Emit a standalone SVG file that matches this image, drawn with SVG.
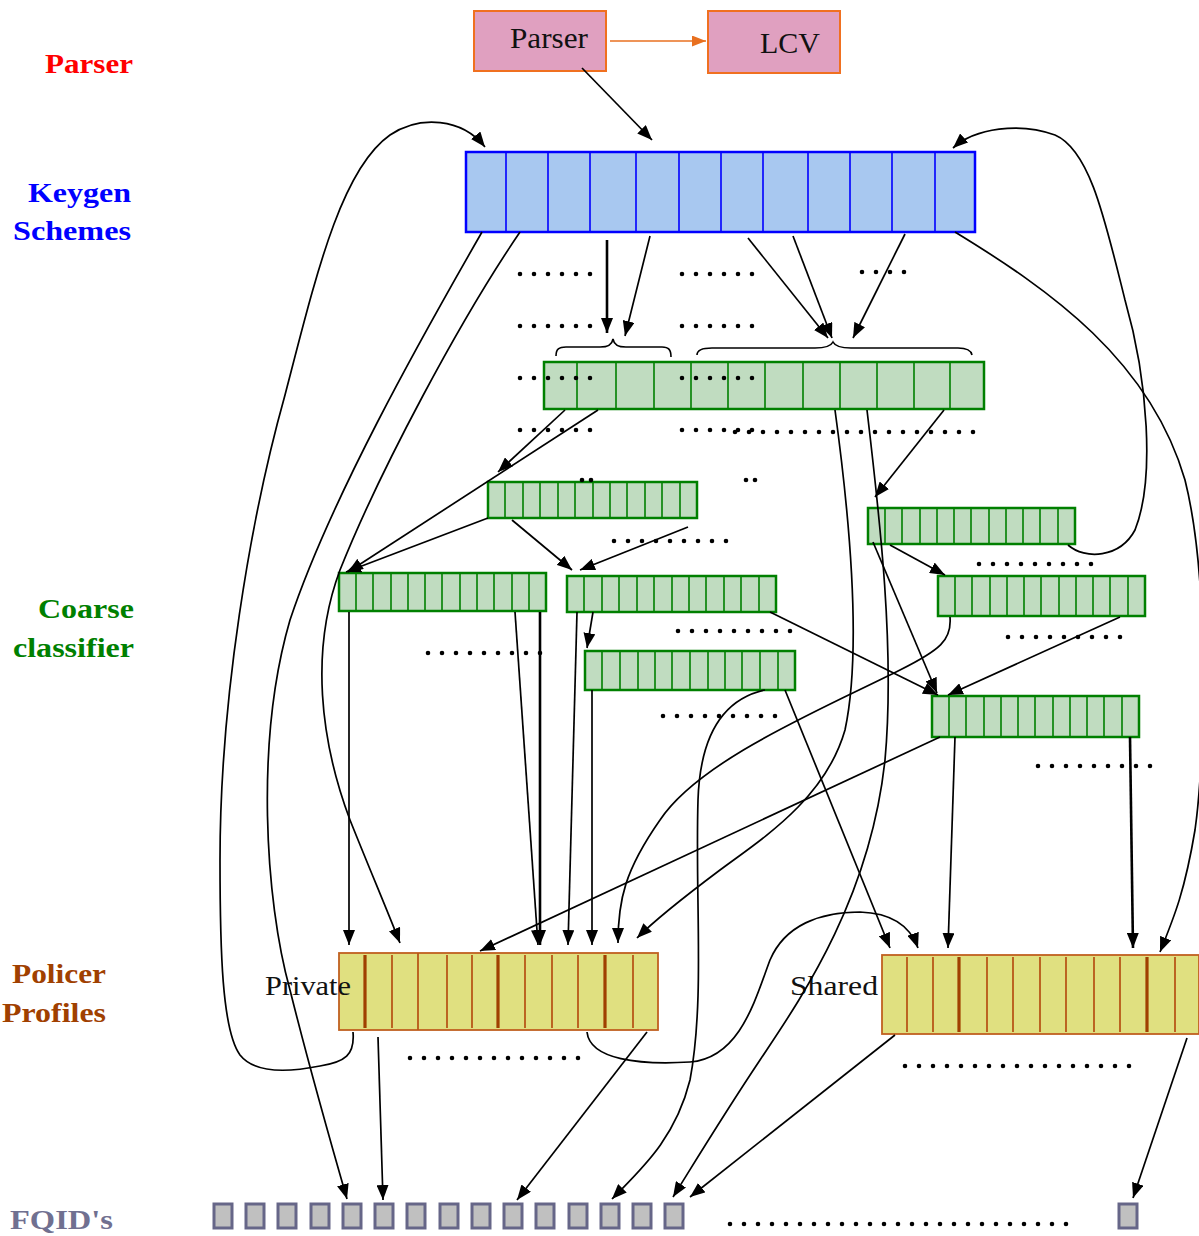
<svg xmlns="http://www.w3.org/2000/svg" width="1199" height="1236" viewBox="0 0 1199 1236">
<style>
.lbl{font-family:"Liberation Serif",serif;font-weight:bold;font-size:28px}
.ntx{font-family:"Liberation Serif",serif;font-size:30px;fill:#111}
.ptx{font-family:"Liberation Serif",serif;font-size:28px;fill:#111}
.kg{fill:#a8c8f0;stroke:#0000ff;stroke-width:2.5}
.kgd{stroke:#0000ff;stroke-width:1.6}
.cc{fill:#c0dcc0;stroke:#008000;stroke-width:2.5}
.ccd{stroke:#008000;stroke-width:1.6}
.pp{fill:#e0e080;stroke:#c06020;stroke-width:1.8}
.ppd{stroke:#b85818;stroke-width:1.8}
.ppt{stroke:#a04000;stroke-width:3.2}
.fq{fill:#c0c0c0;stroke:#666688;stroke-width:3}
.c{fill:none;stroke:#000;stroke-width:1.7;marker-end:url(#ah)}
.t{stroke-width:2.6}
.dots{fill:none;stroke:#000;stroke-width:4.6;stroke-linecap:round;stroke-dasharray:0 14}
.br{fill:none;stroke:#000;stroke-width:1.6}
</style>
<defs>
<marker id="ah" markerWidth="15" markerHeight="12" refX="15" refY="6" orient="auto" markerUnits="userSpaceOnUse"><path d="M0,0 L15,6 L0,12 z" fill="#000"/></marker>
<marker id="aho" markerWidth="14" markerHeight="11" refX="14" refY="5.5" orient="auto" markerUnits="userSpaceOnUse"><path d="M0,0 L14,5.5 L0,11 z" fill="#e87020"/></marker>
</defs>
<rect width="1199" height="1236" fill="#fff"/>

<g id="labels">
<text class="lbl" x="45" y="73" fill="#ff0000" textLength="88" lengthAdjust="spacingAndGlyphs">Parser</text>
<text class="lbl" x="28" y="202" fill="#0000ff" textLength="103" lengthAdjust="spacingAndGlyphs">Keygen</text>
<text class="lbl" x="13" y="240" fill="#0000ff" textLength="118" lengthAdjust="spacingAndGlyphs">Schemes</text>
<text class="lbl" x="38" y="618" fill="#008000" textLength="96" lengthAdjust="spacingAndGlyphs">Coarse</text>
<text class="lbl" x="13" y="657" fill="#008000" textLength="121" lengthAdjust="spacingAndGlyphs">classifier</text>
<text class="lbl" x="12" y="983" fill="#a04000" textLength="94" lengthAdjust="spacingAndGlyphs">Policer</text>
<text class="lbl" x="2" y="1022" fill="#a04000" textLength="104" lengthAdjust="spacingAndGlyphs">Profiles</text>
<text class="lbl" x="10" y="1229" fill="#707090" textLength="103" lengthAdjust="spacingAndGlyphs">FQID's</text>
</g>

<g id="parser">
<rect x="474" y="11" width="132" height="60" fill="#e0a0c0" stroke="#f07020" stroke-width="2"/>
<text class="ntx" x="510" y="48" textLength="78" lengthAdjust="spacingAndGlyphs">Parser</text>
</g>
<g id="lcv">
<rect x="708" y="11" width="132" height="62" fill="#e0a0c0" stroke="#f07020" stroke-width="2"/>
<text class="ntx" x="760" y="53" textLength="60" lengthAdjust="spacingAndGlyphs">LCV</text>
</g>

<g id="keygen">
<rect class="kg" x="466" y="152" width="509" height="80"/>
<path class="kgd" d="M506,152V232M548,152V232M590,152V232M636,152V232M679,152V232M721,152V232M763,152V232M808,152V232M850,152V232M892,152V232M935,152V232"/>
</g>

<g id="cc1">
<rect class="cc" x="544" y="362" width="440" height="47"/>
<path class="ccd" d="M577,362V409M616,362V409M654,362V409M691,362V409M728,362V409M765,362V409M803,362V409M840,362V409M877,362V409M914,362V409M950,362V409"/>
</g>
<g id="cc2">
<rect class="cc" x="488" y="482" width="209" height="36"/>
<path class="ccd" d="M505,482V518M523,482V518M540,482V518M558,482V518M575,482V518M593,482V518M610,482V518M627,482V518M645,482V518M662,482V518M680,482V518"/>
</g>
<g id="cc3">
<rect class="cc" x="339" y="573" width="207" height="38"/>
<path class="ccd" d="M356,573V611M373,573V611M391,573V611M408,573V611M425,573V611M442,573V611M460,573V611M477,573V611M494,573V611M512,573V611M529,573V611"/>
</g>
<g id="cc4">
<rect class="cc" x="567" y="576" width="209" height="36"/>
<path class="ccd" d="M584,576V612M602,576V612M619,576V612M637,576V612M654,576V612M672,576V612M689,576V612M706,576V612M724,576V612M741,576V612M759,576V612"/>
</g>
<g id="cc5">
<rect class="cc" x="585" y="651" width="210" height="39"/>
<path class="ccd" d="M602,651V690M620,651V690M638,651V690M655,651V690M672,651V690M690,651V690M708,651V690M725,651V690M742,651V690M760,651V690M778,651V690"/>
</g>
<g id="cc6">
<rect class="cc" x="868" y="508" width="207" height="36"/>
<path class="ccd" d="M885,508V544M902,508V544M920,508V544M937,508V544M954,508V544M971,508V544M989,508V544M1006,508V544M1023,508V544M1040,508V544M1058,508V544"/>
</g>
<g id="cc7">
<rect class="cc" x="938" y="576" width="207" height="40"/>
<path class="ccd" d="M955,576V616M972,576V616M990,576V616M1007,576V616M1024,576V616M1041,576V616M1059,576V616M1076,576V616M1093,576V616M1110,576V616M1128,576V616"/>
</g>
<g id="cc8">
<rect class="cc" x="932" y="696" width="207" height="41"/>
<path class="ccd" d="M949,696V737M966,696V737M984,696V737M1001,696V737M1018,696V737M1035,696V737M1053,696V737M1070,696V737M1087,696V737M1104,696V737M1122,696V737"/>
</g>

<g id="policer-private">
<rect class="pp" x="339" y="953" width="319" height="77"/>
<path class="ppt" d="M365,955V1028M498,955V1028M605,955V1028"/>
<path class="ppd" d="M392,955V1028M418,953V1030M447,955V1028M472,955V1028M525,955V1028M552,955V1028M578,955V1028M633,955V1028"/>
<text class="ptx" x="265" y="995" textLength="86" lengthAdjust="spacingAndGlyphs">Private</text>
</g>
<g id="policer-shared">
<rect class="pp" x="882" y="955" width="317" height="79"/>
<path class="ppt" d="M959,957V1032M1147,957V1032"/>
<path class="ppd" d="M907,957V1032M933,957V1032M987,957V1032M1013,957V1032M1040,957V1032M1066,957V1032M1094,957V1032M1120,957V1032M1175,957V1032"/>
<text class="ptx" x="790" y="995" textLength="88" lengthAdjust="spacingAndGlyphs">Shared</text>
</g>

<g id="fqids">
<rect class="fq" x="214" y="1204" width="18" height="24"/>
<rect class="fq" x="246" y="1204" width="18" height="24"/>
<rect class="fq" x="278" y="1204" width="18" height="24"/>
<rect class="fq" x="311" y="1204" width="18" height="24"/>
<rect class="fq" x="343" y="1204" width="18" height="24"/>
<rect class="fq" x="375" y="1204" width="18" height="24"/>
<rect class="fq" x="407" y="1204" width="18" height="24"/>
<rect class="fq" x="440" y="1204" width="18" height="24"/>
<rect class="fq" x="472" y="1204" width="18" height="24"/>
<rect class="fq" x="504" y="1204" width="18" height="24"/>
<rect class="fq" x="536" y="1204" width="18" height="24"/>
<rect class="fq" x="569" y="1204" width="18" height="24"/>
<rect class="fq" x="601" y="1204" width="18" height="24"/>
<rect class="fq" x="633" y="1204" width="18" height="24"/>
<rect class="fq" x="665" y="1204" width="18" height="24"/>
<rect class="fq" x="1119" y="1204" width="18" height="24"/>
</g>

<g id="ellipses">
<path class="dots" d="M520,274H592M682,274H754M862,272H918M520,326H592M682,326H754M520,378H592M682,378H754M520,430H592M682,430H754M735,432H987M614,541H730M979,564H1095M678,631H794M1008,637H1124M428,653H544M663,716H779M1038,766H1154M410,1058H580M905,1066H1140M730,1224H1078"/>
<g fill="#000"><circle cx="582" cy="480" r="2.3"/><circle cx="591" cy="480" r="2.3"/><circle cx="746" cy="480" r="2.3"/><circle cx="755" cy="480" r="2.3"/></g>
</g>

<g id="braces">
<path class="br" d="M556,356C556,349 559,347 566,347L600,347C608,347 612,345 613,339C614,345 618,347 626,347L662,347C669,347 671,350 671,357"/>
<path class="br" d="M697,355C697,350 702,348 712,348L815,348C826,348 831,346 833,342C835,346 840,348 851,348L958,348C967,348 971,350 972,355"/>
</g>

<g id="connectors">
<path d="M610,41H706" fill="none" stroke="#e87020" stroke-width="1.6" marker-end="url(#aho)"/>
<path class="c" d="M582,68L652,140"/>
<path class="c t" d="M607,240V333"/>
<path class="c" d="M650,236L625,336"/>
<path class="c" d="M748,238L828,338"/>
<path class="c" d="M793,236L832,338"/>
<path class="c" d="M905,234L853,338"/>
<path class="c" d="M353,1032C355,1055 345,1062 320,1066C290,1072 255,1074 240,1055C222,1030 220,950 220,860C220,700 250,520 285,395C315,280 340,170 390,135C420,115 462,118 485,147"/>
<path class="c" d="M482,232C420,340 330,500 290,620C255,740 265,900 290,990C310,1070 330,1140 347,1199"/>
<path class="c" d="M520,232C460,320 380,470 340,570C310,650 320,740 350,820C370,870 385,905 400,943"/>
<path class="c" d="M1068,545C1085,560 1120,558 1135,530C1155,480 1148,380 1125,300C1105,220 1090,150 1055,135C1020,122 975,128 953,148"/>
<path class="c" d="M955,232C1050,290 1150,360 1185,480C1210,580 1205,760 1195,830C1185,890 1175,915 1160,952"/>
<path class="c" d="M565,410L498,472"/>
<path class="c" d="M598,410L348,572"/>
<path class="c" d="M944,410L875,497"/>
<path class="c" d="M835,410C850,520 862,650 845,730C825,800 760,840 720,870C680,900 655,920 637,938"/>
<path class="c" d="M867,410C880,520 895,650 885,760C870,900 800,1000 760,1060C720,1120 690,1170 673,1197"/>
<path class="c" d="M488,518L346,572"/>
<path class="c" d="M512,520L572,570"/>
<path class="c" d="M688,527L580,570"/>
<path class="c" d="M349,612V945"/>
<path class="c" d="M515,612L538,945"/>
<path class="c t" d="M540,612V945"/>
<path class="c" d="M577,612L568,945"/>
<path class="c" d="M593,612L587,648"/>
<path class="c" d="M592,690V945"/>
<path class="c" d="M770,612L938,695"/>
<path class="c" d="M785,690L890,948"/>
<path class="c" d="M765,690C720,700 700,740 698,800C695,900 705,1000 690,1080C675,1140 640,1170 612,1199"/>
<path class="c" d="M890,545L945,575"/>
<path class="c" d="M873,542L937,693"/>
<path class="c" d="M950,617C952,640 940,650 900,670C820,710 700,760 660,820C625,870 618,900 618,943"/>
<path class="c" d="M1120,617L948,695"/>
<path class="c" d="M940,737L480,951"/>
<path class="c" d="M955,737L948,948"/>
<path class="c t" d="M1130,737L1133,948"/>
<path class="c" d="M378,1037L383,1200"/>
<path class="c" d="M647,1032L517,1200"/>
<path class="c" d="M587,1032C590,1060 640,1065 690,1062C740,1058 755,1000 770,960C785,925 820,912 860,912C890,913 910,925 918,948"/>
<path class="c" d="M895,1035L690,1197"/>
<path class="c" d="M1187,1038L1133,1198"/>
</g>
</svg>
